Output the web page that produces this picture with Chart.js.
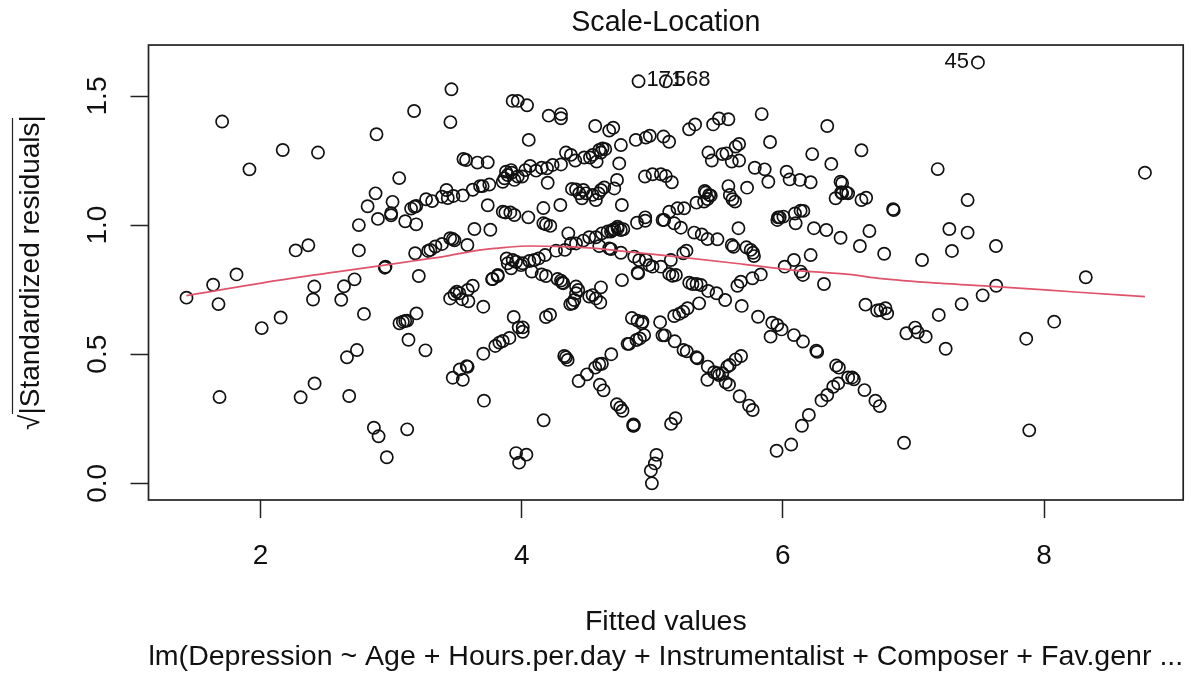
<!DOCTYPE html>
<html>
<head>
<meta charset="utf-8">
<title>Scale-Location</title>
<script src="https://cdn.jsdelivr.net/npm/chart.js@4"></script>
<style>
  html, body { margin: 0; padding: 0; background: #fff; }
  canvas { display: block; }
</style>
</head>
<body>
<canvas id="sl" width="1191" height="675"></canvas>
<script>
// Values, one pair of arrays per part of the plot
const leftX = [
  1.706, 1.915, 2.170, 2.440, 2.888, 3.176, 3.462, 3.454, 3.554, 3.574,
  3.661, 3.740, 3.062, 2.881, 2.820, 3.011, 3.000, 3.000, 2.899, 2.753,
  3.108, 3.192, 3.153, 3.179, 3.192, 3.268, 3.314, 3.424, 3.390, 3.434,
  3.477, 3.549, 3.625, 3.681, 3.701, 3.752, 3.740, 3.638, 3.760, 3.584,
  3.452, 3.485, 3.472, 3.390, 3.339, 3.301, 3.283, 3.184, 2.753, 2.366,
  2.269, 2.957, 2.952, 1.816, 1.637, 2.720, 3.212, 1.433, 1.678, 2.412,
  2.402, 2.639, 2.618, 2.792, 2.154, 2.009, 3.194, 3.064, 3.090, 3.108,
  3.123, 3.133, 3.263, 2.738, 2.662, 2.414, 2.307, 1.686, 2.679, 2.868,
  2.904, 3.123, 2.967, 3.452, 3.485, 3.503, 3.523, 3.543, 3.587, 3.592,
  3.625, 3.706, 3.778, 3.816, 3.706, 3.798, 3.829, 3.579, 3.586, 3.526,
  3.472, 3.549, 3.711
];
const leftY = [
  1.401, 1.216, 1.291, 1.281, 1.352, 1.442, 1.526, 1.399, 1.256, 1.252,
  1.242, 1.243, 1.182, 1.123, 1.073, 1.090, 1.046, 1.038, 1.024, 1.000,
  1.015, 1.003, 1.064, 1.071, 1.074, 1.100, 1.093, 1.136, 1.110, 1.105,
  1.113, 1.115, 1.137, 1.151, 1.151, 1.157, 1.077, 0.985, 0.982, 0.923,
  0.949, 0.941, 0.946, 0.927, 0.917, 0.904, 0.900, 0.891, 0.902, 0.922,
  0.902, 0.839, 0.835, 0.809, 0.769, 0.790, 0.803, 0.719, 0.694, 0.762,
  0.712, 0.763, 0.711, 0.656, 0.642, 0.601, 0.658, 0.620, 0.626, 0.629,
  0.630, 0.556, 0.515, 0.516, 0.488, 0.387, 0.333, 0.334, 0.338, 0.215,
  0.182, 0.209, 0.101, 0.716, 0.733, 0.742, 0.736, 0.713, 0.749, 0.705,
  0.765, 0.684, 0.791, 0.803, 0.502, 0.532, 0.545, 0.454, 0.451, 0.441,
  0.409, 0.401, 0.320
];

const lowerX = [
  4.997, 4.989, 5.020, 5.032, 3.957, 4.036, 3.980, 4.168, 4.856, 4.859,
  4.854, 5.144, 5.178, 5.952, 6.064, 6.146, 6.199, 6.296, 6.340, 6.386,
  6.424, 6.408, 6.429, 6.500, 5.769, 5.741, 5.669, 5.588, 5.562, 5.499,
  5.473, 5.511, 5.422, 5.425, 5.346, 5.338, 5.264, 5.239, 5.172, 5.096,
  5.078, 5.060, 5.575, 5.639, 5.680, 5.593, 5.537, 5.919, 5.957, 5.990,
  6.085, 6.154, 6.256, 6.263, 5.906, 3.939, 3.977, 4.008, 4.008, 3.906,
  3.855, 4.186, 4.217, 4.326, 4.339, 4.352, 4.436, 4.500, 4.563, 4.594,
  4.614, 4.686, 4.599, 4.627, 4.729, 4.755, 4.772, 4.844, 4.887, 4.925,
  4.920, 4.938, 4.905, 4.879, 4.823, 4.811, 4.372, 4.403
];
const lowerY = [
  0.000, 0.049, 0.077, 0.110, 0.117, 0.111, 0.080, 0.244, 0.228, 0.224,
  0.223, 0.230, 0.252, 0.126, 0.150, 0.223, 0.265, 0.321, 0.342, 0.374,
  0.387, 0.456, 0.448, 0.410, 0.284, 0.301, 0.337, 0.382, 0.391, 0.426,
  0.430, 0.419, 0.401, 0.452, 0.484, 0.488, 0.511, 0.516, 0.550, 0.573,
  0.573, 0.624, 0.452, 0.480, 0.493, 0.458, 0.426, 0.622, 0.613, 0.596,
  0.574, 0.549, 0.514, 0.509, 0.568, 0.644, 0.604, 0.604, 0.587, 0.563,
  0.551, 0.644, 0.653, 0.493, 0.488, 0.478, 0.396, 0.422, 0.448, 0.461,
  0.463, 0.500, 0.382, 0.360, 0.306, 0.294, 0.281, 0.640, 0.630, 0.626,
  0.620, 0.574, 0.561, 0.555, 0.540, 0.540, 0.694, 0.710
];

const centreX = [
  3.855, 3.875, 3.913, 3.944, 4.051, 4.166, 4.296, 4.166, 4.186, 4.219,
  4.357, 4.199, 3.855, 3.880, 3.919, 3.868, 3.893, 3.924, 3.944, 3.970,
  4.003, 4.028, 4.064, 4.110, 4.153, 4.194, 4.237, 4.301, 4.339, 4.377,
  4.410, 4.479, 4.523, 4.543, 4.574, 4.594, 4.619, 4.607, 4.640, 4.385,
  4.416, 4.441, 4.472, 4.492, 4.461, 4.543, 4.568, 4.589, 4.607, 4.632,
  4.767, 4.331, 4.377, 4.416, 4.472, 4.517, 4.568, 4.614, 4.658, 4.696,
  4.734, 4.594, 4.670, 4.759, 4.263, 3.885, 3.931, 3.893, 3.919, 3.957,
  4.008, 3.995, 4.059, 4.097, 4.130, 4.179, 3.817, 3.773, 4.077, 4.153,
  4.186, 4.275, 4.301, 4.309, 4.319, 4.416, 4.433, 4.416, 4.390, 4.543,
  4.607, 4.602, 4.568, 4.517
];
const centreY = [
  1.052, 1.049, 1.049, 1.039, 1.030, 1.066, 1.078, 1.007, 1.003, 0.997,
  0.968, 1.164, 1.168, 1.207, 1.213, 1.181, 1.194, 1.203, 1.175, 1.188,
  1.188, 1.213, 1.229, 1.211, 1.222, 1.220, 1.233, 1.235, 1.281, 1.272,
  1.250, 1.262, 1.262, 1.272, 1.246, 1.291, 1.297, 1.281, 1.294, 1.140,
  1.138, 1.123, 1.136, 1.123, 1.104, 1.117, 1.097, 1.123, 1.136, 1.146,
  1.078, 0.904, 0.929, 0.929, 0.940, 0.953, 0.953, 0.968, 0.975, 0.981,
  0.994, 0.919, 0.910, 0.981, 0.901, 0.871, 0.865, 0.852, 0.833, 0.858,
  0.852, 0.845, 0.861, 0.865, 0.871, 0.884, 0.807, 0.791, 0.820, 0.809,
  0.803, 0.791, 0.785, 0.777, 0.775, 0.762, 0.749, 0.736, 0.697, 0.729,
  0.759, 0.700, 0.716, 0.723
];

const midX = [
  4.730, 4.709, 4.747, 4.760, 4.944, 5.002, 5.066, 5.104, 5.150, 5.430,
  5.456, 5.537, 5.568, 5.609, 5.665, 5.639, 5.665, 5.902, 5.785, 5.861,
  5.889, 6.029, 6.052, 6.131, 6.213, 6.225, 6.371, 6.442, 6.404, 6.447,
  6.485, 5.726, 5.583, 5.594, 5.614, 5.634, 5.339, 5.402, 5.410, 5.436,
  5.448, 5.397, 5.423, 5.244, 5.193, 5.130, 5.079, 5.091, 5.168, 5.219,
  5.321, 5.379, 5.423, 5.499, 4.883, 4.946, 4.946, 5.660, 5.609, 5.622,
  5.721, 5.754, 5.772, 5.779, 5.963, 5.976, 5.958, 6.004, 6.093, 6.136,
  6.157, 6.098, 6.238, 6.333, 6.442, 6.213, 6.085, 6.014, 6.136, 6.154,
  6.315, 5.831, 5.767, 5.678, 5.652, 5.685, 5.810, 5.359, 5.270, 5.237,
  5.206, 5.168, 4.760, 4.684, 4.862, 4.900, 4.951, 4.977, 5.002, 5.066,
  5.142, 5.237, 5.262, 4.888, 4.768, 5.130, 5.155, 5.181, 5.283, 5.308,
  5.339, 5.372, 5.428, 5.492, 5.558, 4.684, 4.709, 4.735, 4.778, 4.892
];
const midY = [
  1.175, 1.142, 1.239, 1.310, 1.188, 1.197, 1.197, 1.190, 1.166, 1.281,
  1.250, 1.275, 1.278, 1.246, 1.250, 1.304, 1.314, 1.322, 1.222, 1.216,
  1.168, 1.207, 1.177, 1.175, 1.166, 1.275, 1.237, 1.168, 1.104, 1.127,
  1.126, 1.145, 1.151, 1.117, 1.100, 1.091, 1.087, 1.132, 1.126, 1.117,
  1.114, 1.091, 1.101, 1.065, 1.065, 1.052, 1.020, 1.020, 1.007, 0.990,
  0.971, 0.964, 0.946, 0.945, 1.009, 1.030, 1.017, 0.988, 0.923, 0.916,
  0.914, 0.904, 0.893, 0.880, 1.030, 1.030, 1.020, 1.033, 1.045, 1.056,
  1.055, 1.007, 0.988, 0.981, 0.951, 0.884, 0.865, 0.839, 0.820, 0.807,
  0.772, 0.809, 0.794, 0.781, 0.765, 0.687, 0.645, 0.697, 0.678, 0.665,
  0.656, 0.648, 0.893, 0.907, 0.878, 0.865, 0.865, 0.845, 0.839, 0.839,
  0.865, 0.891, 0.901, 0.816, 0.787, 0.811, 0.804, 0.807, 0.777, 0.772,
  0.772, 0.768, 0.745, 0.736, 0.710, 0.975, 0.984, 0.987, 0.984, 0.813
];

const upperX = [
  4.895, 5.104, 3.931, 3.970, 4.041, 4.207, 4.301, 4.301, 4.054, 4.563,
  4.670, 4.701, 4.874, 4.951, 4.981, 5.086, 5.129, 5.282, 5.328, 5.466,
  5.511, 5.583, 5.838, 6.340
];
const upperY = [
  1.557, 1.557, 1.481, 1.481, 1.464, 1.424, 1.430, 1.414, 1.330, 1.384,
  1.366, 1.377, 1.330, 1.339, 1.346, 1.343, 1.323, 1.371, 1.390, 1.390,
  1.413, 1.410, 1.430, 1.384
];

const rightX = [
  7.494, 6.602, 7.186, 8.773, 7.415, 6.454, 6.454, 6.500, 6.602, 6.638,
  6.844, 6.849, 6.663, 6.590, 6.776, 7.066, 7.275, 7.415, 7.295, 7.632,
  8.320, 7.634, 7.530, 7.369, 7.194, 7.247, 6.633, 6.722, 6.748, 6.786,
  6.799, 7.013, 6.946, 7.033, 7.094, 8.078, 7.864, 7.887, 6.928, 6.531,
  6.544, 6.625, 6.709, 6.742
];
const rightY = [
  1.630, 1.290, 1.217, 1.203, 1.097, 1.162, 1.123, 1.123, 1.097, 1.106,
  1.062, 1.058, 0.977, 0.919, 0.889, 0.865, 0.985, 0.971, 0.900, 0.919,
  0.798, 0.765, 0.728, 0.694, 0.652, 0.521, 0.692, 0.669, 0.671, 0.678,
  0.658, 0.603, 0.581, 0.585, 0.568, 0.626, 0.560, 0.205, 0.157, 0.410,
  0.403, 0.361, 0.320, 0.299
];

// red smoother
const smoothX = [1.433, 2.147, 2.912, 3.167, 3.422, 3.677, 3.880, 4.059, 4.314, 4.568, 4.747, 5.181, 5.690, 6.073, 6.506, 6.735, 7.194, 7.627, 8.264, 8.773];
const smoothY = [0.727, 0.787, 0.842, 0.861, 0.880, 0.903, 0.914, 0.919, 0.917, 0.910, 0.900, 0.878, 0.849, 0.826, 0.809, 0.794, 0.775, 0.762, 0.740, 0.723];

// labelled points
const idLabels = ["171", "568", "45"];
const idX = [4.895, 5.104, 7.494];
const idY = [1.557, 1.557, 1.630];
const idAlign = ["left", "left", "right"];

const xTicks = [2, 4, 6, 8];
const yTicks = [0, 0.5, 1, 1.5];

const allX = [...leftX, ...lowerX, ...centreX, ...midX, ...upperX, ...rightX];
const allY = [...leftY, ...lowerY, ...centreY, ...midY, ...upperY, ...rightY];

const FONT = '"Liberation Sans", Arial, Helvetica, sans-serif';
const INK = "#111";

// box round the plot, the overline of the root sign, the point ids
const extras = {
  id: "extras",
  afterDraw(chart) {
    const { ctx, chartArea: a, scales } = chart;
    ctx.save();
    ctx.strokeStyle = "#222";
    ctx.lineWidth = 1.7;
    ctx.strokeRect(a.left, a.top, a.right - a.left, a.bottom - a.top);

    ctx.lineWidth = 1.2;
    ctx.beginPath();
    ctx.moveTo(12.5, 118);
    ctx.lineTo(12.5, 414);
    ctx.stroke();

    ctx.fillStyle = INK;
    ctx.font = "22px " + FONT;
    ctx.textBaseline = "middle";
    idLabels.forEach((t, i) => {
      const px = scales.x.getPixelForValue(idX[i]);
      const py = scales.y.getPixelForValue(idY[i]);
      ctx.textAlign = idAlign[i];
      ctx.fillText(t, px + (idAlign[i] === "left" ? 8 : -9), py - 1);
    });
    ctx.restore();
  },
};

new Chart(document.getElementById("sl"), {
  type: "scatter",
  data: {
    datasets: [
      {
        label: "residuals",
        data: allX.map((x, i) => ({ x: x, y: allY[i] })),
        pointStyle: "circle",
        pointRadius: 6.1,
        pointBorderWidth: 1.7,
        pointBorderColor: "#111",
        pointBackgroundColor: "transparent",
        showLine: false,
        order: 2,
      },
      {
        label: "smoother",
        data: smoothX.map((x, i) => ({ x: x, y: smoothY[i] })),
        showLine: true,
        borderColor: "#DF536B",
        borderWidth: 1.7,
        pointRadius: 0,
        cubicInterpolationMode: "monotone",
        order: 1,
      },
    ],
  },
  options: {
    responsive: false,
    animation: false,
    layout: { padding: { right: 6 } },
    plugins: {
      legend: { display: false },
      tooltip: { enabled: false },
      title: {
        display: true,
        text: "Scale-Location",
        fullSize: false,
        color: INK,
        font: { family: FONT, size: 28.6, weight: "normal", lineHeight: 1.2 },
        padding: { top: 5.5, bottom: 5.2 },
      },
    },
    scales: {
      x: {
        type: "linear",
        min: 1.142,
        max: 9.066,
        afterBuildTicks: (s) => { s.ticks = xTicks.map((v) => ({ value: v })); },
        afterFit: (s) => { s.height = 175; },
        border: { display: false },
        grid: { drawOnChartArea: false, tickLength: 18, tickColor: "#222", tickWidth: 1.5 },
        ticks: {
          color: INK,
          font: { family: FONT, size: 28 },
          padding: 21,
          maxRotation: 0,
        },
        title: {
          display: true,
          text: ["Fitted values", "lm(Depression ~ Age + Hours.per.day + Instrumentalist + Composer + Fav.genr ..."],
          color: INK,
          font: { family: FONT, size: 28.55, lineHeight: 1.23 },
          padding: { top: 0, bottom: 0 },
        },
      },
      y: {
        type: "linear",
        min: -0.0647,
        max: 1.6975,
        afterBuildTicks: (s) => { s.ticks = yTicks.map((v) => ({ value: v })); },
        afterFit: (s) => { s.width = 148.5; },
        border: { display: false },
        grid: { drawOnChartArea: false, tickLength: 18, tickColor: "#222", tickWidth: 1.5 },
        ticks: {
          color: INK,
          font: { family: FONT, size: 28 },
          minRotation: 90,
          maxRotation: 90,
          crossAlign: "center",
          padding: 13,
          callback: (v) => v.toFixed(1),
        },
        title: {
          display: true,
          text: "√|Standardized residuals|",
          color: INK,
          font: { family: FONT, size: 28 },
          padding: { top: 14, bottom: 0 },
        },
      },
    },
  },
  plugins: [extras],
});
</script>
</body>
</html>
